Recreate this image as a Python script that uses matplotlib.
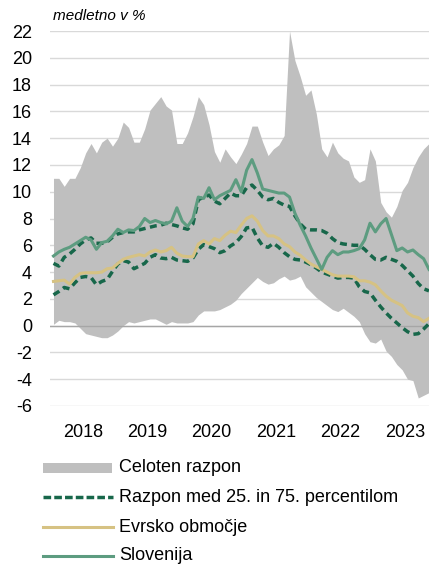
import matplotlib
matplotlib.use("Agg")
import matplotlib.pyplot as plt
import numpy as np
from matplotlib.patches import Rectangle

# mesečni podatki, jan 2018 -> nov 2023 (odčitano s slike)
meseci = np.arange(71)

razpon_zgoraj = [
    11.0, 11.0, 10.4, 11.0, 11.0, 11.8, 12.9, 13.6, 12.9, 13.7, 14.0, 13.4,
    14.0, 15.2, 14.8, 13.7, 13.7, 14.7, 16.1, 16.6, 17.1, 16.4, 16.1, 13.6,
    13.6, 14.4, 15.6, 17.1, 16.5, 15.0, 13.0, 12.2, 13.2, 12.6, 12.1, 12.8,
    13.6, 14.9, 14.9, 13.7, 12.7, 13.2, 13.5, 14.2, 22.0, 19.8, 18.6, 17.2,
    17.6, 15.8, 13.2, 12.6, 13.7, 12.9, 12.5, 12.3, 11.1, 10.7, 10.9, 13.2,
    12.3, 9.2, 8.5, 8.1, 8.9, 10.1, 10.7, 11.8, 12.6, 13.2, 13.6,
]
razpon_spodaj = [
    0.1, 0.4, 0.3, 0.3, 0.2, -0.2, -0.6, -0.7, -0.8, -0.9, -0.9, -0.7,
    -0.4, 0.0, 0.3, 0.2, 0.3, 0.4, 0.5, 0.5, 0.3, 0.1, 0.3, 0.2,
    0.2, 0.2, 0.3, 0.8, 1.1, 1.1, 1.1, 1.2, 1.4, 1.6, 1.9, 2.4,
    2.8, 3.2, 3.6, 3.3, 3.1, 3.2, 3.5, 3.7, 3.4, 3.5, 3.7, 2.9,
    2.5, 2.1, 1.8, 1.5, 1.2, 1.05, 1.3, 1.0, 0.7, 0.3, -0.6, -1.2,
    -1.3, -1.0, -1.9, -2.3, -2.9, -3.3, -4.0, -4.1, -5.4, -5.2, -5.0,
]
p75 = [
    4.65, 4.45, 5.1, 5.35, 5.7, 6.1, 6.4, 6.55, 6.15, 6.15, 6.25, 6.6,
    6.85, 6.95, 7.0, 7.0, 7.15, 7.25, 7.35, 7.45, 7.5, 7.65, 7.55, 7.45,
    7.3, 7.2, 7.6, 9.4, 9.6, 9.75, 9.3, 9.1, 9.5, 9.9, 9.7, 9.7,
    10.3, 10.5, 10.1, 9.6, 9.4, 9.5, 9.2, 9.0, 8.9, 8.2, 7.6, 7.2,
    7.15, 7.15, 7.1, 6.9, 6.5, 6.2, 6.1, 6.05, 6.0, 6.0, 5.7, 5.3,
    4.95, 4.9, 5.1, 4.95, 4.8, 4.5, 4.1, 3.7, 3.15, 2.75, 2.6,
]
p25 = [
    2.3, 2.55, 2.85, 2.75, 3.2, 3.6, 3.67, 3.6, 3.05, 3.3, 3.45, 4.05,
    4.6, 4.85, 4.75, 4.25, 4.45, 4.65, 5.1, 5.3, 5.05, 5.0, 5.1, 4.9,
    4.85, 4.8, 5.05, 5.7, 6.05, 5.9, 5.75, 5.45, 5.6, 5.95, 6.2, 6.65,
    7.3, 7.35, 6.55, 5.95, 5.85, 6.15, 5.85, 5.45, 5.15, 4.95, 4.9, 4.75,
    4.55, 4.3, 4.0, 3.85, 3.7, 3.55, 3.6, 3.6, 3.55, 2.9, 2.55, 2.45,
    1.9, 1.4, 0.95, 0.55, 0.2, -0.15, -0.45, -0.65, -0.6, -0.25, 0.15,
]
evro = [
    3.3, 3.35, 3.4, 3.1, 3.6, 3.9, 3.95, 3.95, 3.95, 4.0, 4.25, 4.3,
    4.65, 4.95, 5.1, 5.2, 5.3, 5.2, 5.5, 5.65, 5.5, 5.6, 5.85, 5.4,
    5.2, 5.15, 5.15, 6.1, 6.35, 6.1, 6.5, 6.35, 6.75, 7.05, 6.95, 7.5,
    8.0, 8.2, 7.8, 7.1, 6.7, 6.7, 6.5, 6.1, 5.9, 5.5, 5.25, 4.9,
    4.6, 4.4, 4.2, 4.0, 3.8, 3.7, 3.7, 3.7, 3.65, 3.35, 3.35, 3.25,
    3.05, 2.6, 2.2, 1.9, 1.7, 1.5, 0.95, 0.7, 0.6, 0.3, 0.55,
]
slovenija = [
    5.2, 5.5, 5.7, 5.85, 6.1, 6.35, 6.6, 6.4, 5.7, 6.2, 6.3, 6.7,
    7.2, 6.95, 7.15, 7.1, 7.4, 8.0, 7.7, 7.85, 7.7, 7.6, 7.8, 8.8,
    7.8, 7.4, 8.0, 9.6, 9.5, 10.3, 9.4, 9.7, 9.9, 10.1, 10.9, 10.0,
    11.6, 12.4, 11.4, 10.2, 10.1, 10.0, 9.9, 9.9, 9.6, 8.4, 7.5, 6.7,
    5.8, 5.0, 4.2, 5.1, 5.6, 5.3, 5.5, 5.5, 5.6, 5.75, 6.4, 7.65,
    7.0, 7.6, 8.0, 6.8, 5.6, 5.8, 5.5, 5.65, 5.3, 5.0, 4.2,
]

leta = ["2018", "2019", "2020", "2021", "2022", "2023"]
legenda = ["Celoten razpon", "Razpon med 25. in 75. percentilom",
           "Evrsko območje", "Slovenija"]

SIVA = "#bfbfbf"
TEMNO_ZELENA = "#17674a"
SVETLO_ZELENA = "#5d9c80"
PESEK = "#d6c283"
FS = 13

plt.rcParams["font.family"] = ["Liberation Sans", "DejaVu Sans"]
plt.rcParams["axes.unicode_minus"] = False

fig = plt.figure(figsize=(4.29, 5.67), dpi=100)
ax = fig.add_axes([50 / 429, 161 / 567, 379 / 429, 375 / 567])

ax.fill_between(meseci, razpon_spodaj, razpon_zgoraj, color=SIVA, lw=0, zorder=1)
ax.axhline(0, color="#a6a6a6", lw=1.0, zorder=2)
ax.plot(meseci, p75, color=TEMNO_ZELENA, lw=2.5, dashes=(2.0, 1.3), zorder=3)
ax.plot(meseci, p25, color=TEMNO_ZELENA, lw=2.5, dashes=(2.0, 1.3), zorder=3)
ax.plot(meseci, evro, color=PESEK, lw=2.2, zorder=4)
ax.plot(meseci, slovenija, color=SVETLO_ZELENA, lw=2.2, zorder=5)

ax.set_xlim(-0.65, 70)
ax.set_ylim(-6, 22)
ax.set_yticks(range(-6, 23, 2))
ax.set_xticks([5.5 + 12 * i for i in range(len(leta))])
ax.set_xticklabels(leta)
ax.grid(axis="y", color="#d9d9d9", lw=1.0)
ax.set_axisbelow(True)
ax.tick_params(length=0, labelsize=FS)
ax.tick_params(axis="y", pad=13)
ax.tick_params(axis="x", pad=13)
for s in ax.spines.values():
    s.set_visible(False)

fig.text(53 / 429, 1 - 16 / 567, "medletno v %", style="italic", fontsize=11,
         va="center", ha="left")

# legenda - ročno, v pikslih slike
lax = fig.add_axes([0, 0, 1, 1])
lax.set_xlim(0, 429)
lax.set_ylim(567, 0)
lax.axis("off")
lax.add_patch(Rectangle((43, 463), 69, 10, color=SIVA, lw=0))
lax.plot([43, 113], [497, 497], color=TEMNO_ZELENA, lw=2.5, dashes=(2.2, 0.9))
lax.plot([43, 113], [527, 527], color=PESEK, lw=2.2)
lax.plot([43, 113], [556, 556], color=SVETLO_ZELENA, lw=2.2)
for y, t in zip([468, 497, 527, 556], legenda):
    lax.text(119, y, t, fontsize=FS, va="center", ha="left")

fig.savefig("out.png", dpi=100)
